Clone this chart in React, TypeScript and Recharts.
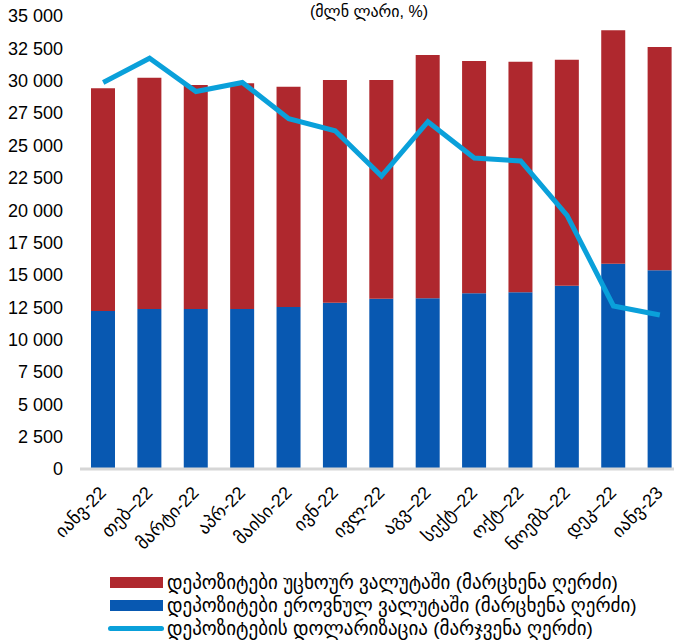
import { ComposedChart, Bar, Line, XAxis, YAxis } from 'recharts';

const months = [
  'იანვ-22', 'თებ–22', 'მარტი-22', 'აპრ-22', 'მაისი-22', 'ივნ-22', 'ივლ-22',
  'აგვ–22', 'სექტ–22', 'ოქტ–22', 'ნოემბ–22', 'დეკ–22', 'იანვ-23',
];
// million GEL
const nationalDeposits = [12210, 12360, 12360, 12360, 12520, 12850, 13160, 13190, 13570, 13650, 14160, 15860, 15350];
const foreignDeposits = [17200, 17870, 17310, 17440, 17020, 17200, 16890, 18800, 17950, 17820, 17460, 18030, 17250];
// %
const dollarization = [57.8, 58.6, 57.5, 57.8, 56.6, 56.2, 54.7, 56.5, 55.3, 55.2, 53.4, 50.4, 50.1];

const leftTicks = [0, 2500, 5000, 7500, 10000, 12500, 15000, 17500, 20000, 22500, 25000, 27500, 30000, 32500, 35000];

const seriesNames = {
  foreign: 'დეპოზიტები უცხოურ ვალუტაში (მარცხენა ღერძი)',
  national: 'დეპოზიტები ეროვნულ ვალუტაში (მარცხენა ღერძი)',
  dollar: 'დეპოზიტების დოლარიზაცია (მარჯვენა ღერძი)',
};

const RED = '#AF282E';
const BLUE = '#0858B1';
const CYAN = '#0AA0DA';
const FONT = '"Liberation Sans", Arial, "DejaVu Sans", sans-serif';

const data = months.map((m, i) => ({
  month: m,
  national: nationalDeposits[i],
  foreign: foreignDeposits[i],
  dollar: dollarization[i],
}));

const fmt = (v: number) => String(v).replace(/\B(?=(\d{3})+(?!\d))/g, ' ');

function MonthTick({ x, y, payload }: any) {
  const ax = x + 4;
  const ay = y + 17;
  return (
    <text
      x={ax}
      y={ay}
      transform={`rotate(-45 ${ax} ${ay})`}
      textAnchor="end"
      fontSize={18}
      fontFamily={FONT}
      fill="#000"
    >
      {payload.value}
    </text>
  );
}

const legendRows = [
  { name: seriesNames.foreign, color: RED, kind: 'bar' },
  { name: seriesNames.national, color: BLUE, kind: 'bar' },
  { name: seriesNames.dollar, color: CYAN, kind: 'line' },
];

export default function App() {
  return (
    <div style={{ position: 'absolute', left: 0, top: 0, width: 674, height: 641, overflow: 'hidden', background: '#fff' }}>
      <ComposedChart
        width={683}
        height={570}
        data={data}
        margin={{ top: 16, right: 0, bottom: 0, left: 0 }}
        barSize={24}
      >
        <text x={369} y={17} textAnchor="middle" fontSize={16} fontFamily={FONT} fill="#000">
          (მლნ ლარი, %)
        </text>
        <XAxis
          dataKey="month"
          interval={0}
          height={101}
          tickLine={false}
          axisLine={{ stroke: '#D6D6D6', strokeWidth: 3 }}
          tick={<MonthTick />}
        />
        <YAxis
          yAxisId="left"
          width={80}
          domain={[0, 35000]}
          ticks={leftTicks}
          tickFormatter={fmt}
          axisLine={false}
          tickLine={false}
          tickMargin={11}
          tick={{ fontSize: 18, fontFamily: FONT, fill: '#000' }}
        />
        <YAxis yAxisId="right" orientation="right" domain={[45, 60]} hide />
        <Bar yAxisId="left" dataKey="national" stackId="dep" fill={BLUE} name={seriesNames.national} isAnimationActive={false} />
        <Bar yAxisId="left" dataKey="foreign" stackId="dep" fill={RED} name={seriesNames.foreign} isAnimationActive={false} />
        <Line
          yAxisId="right"
          type="linear"
          dataKey="dollar"
          stroke={CYAN}
          strokeWidth={5}
          dot={false}
          name={seriesNames.dollar}
          isAnimationActive={false}
        />
      </ComposedChart>
      <div style={{ position: 'absolute', left: 108, top: 571, fontFamily: FONT, fontSize: 19, color: '#000' }}>
        {legendRows.map((r) => (
          <div key={r.name} style={{ display: 'flex', alignItems: 'center', height: 23, whiteSpace: 'nowrap' }}>
            {r.kind === 'bar' ? (
              <span style={{ display: 'inline-block', width: 53, height: 11, marginLeft: 2, background: r.color }} />
            ) : (
              <span style={{ display: 'inline-block', width: 56, height: 5, borderRadius: 3, background: r.color }} />
            )}
            <span style={{ marginLeft: r.kind === 'bar' ? 4 : 3 }}>{r.name}</span>
          </div>
        ))}
      </div>
    </div>
  );
}
